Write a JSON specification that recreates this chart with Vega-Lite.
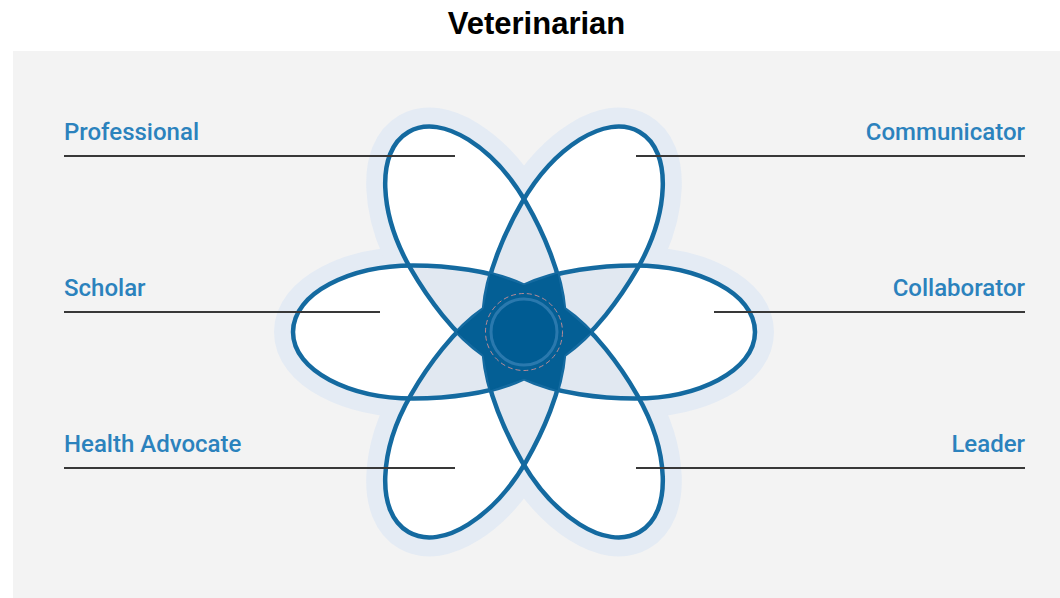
{
  "$schema": "https://vega.github.io/schema/vega-lite/v6.json",
  "width": 1047,
  "height": 547,
  "autosize": {"type": "none"},
  "padding": {"left": 13, "top": 51, "right": 0, "bottom": 0},
  "background": "#ffffff",
  "title": {"text": "Veterinarian", "fontSize": 31, "font": "Liberation Sans", "fontWeight": "bold", "color": "#000000", "anchor": "middle", "offset": 16, "baseline": "alphabetic", "dy": 30},
  "config": {"view": {"fill": "#f3f3f3", "stroke": null}},
  "datasets": {
    "petals": [
      {"axis": "Scholar – Collaborator", "x": 0, "y": 0, "angle": 0},
      {"axis": "Professional – Leader", "x": 0, "y": 0, "angle": 60},
      {"axis": "Communicator – Health Advocate", "x": 0, "y": 0, "angle": 120}
    ],
    "hub": [
      {"name": "Veterinarian", "x": 0, "y": 0}
    ],
    "roles": [
      {"role": "Professional", "side": "left", "x": -460, "x2": -69, "y": 176},
      {"role": "Scholar", "side": "left", "x": -460, "x2": -144, "y": 20},
      {"role": "Health Advocate", "side": "left", "x": -460, "x2": -69, "y": -136},
      {"role": "Communicator", "side": "right", "x": 501, "x2": 112, "y": 176},
      {"role": "Collaborator", "side": "right", "x": 501, "x2": 190, "y": 20},
      {"role": "Leader", "side": "right", "x": 501, "x2": 112, "y": -136}
    ]
  },
  "encoding": {
    "x": {"field": "x", "type": "quantitative", "scale": {"domain": [-511, 536], "nice": false, "zero": false}, "axis": null},
    "y": {"field": "y", "type": "quantitative", "scale": {"domain": [-266, 281], "nice": false, "zero": false}, "axis": null}
  },
  "layer": [
    {
      "data": {"name": "petals"},
      "mark": {"type": "point", "shape": "M 1 0 C 1 -0.17 0.75 -0.288 0.48 -0.288 C 0.34 -0.288 0.14 -0.268 0 -0.2 C -0.14 -0.268 -0.34 -0.288 -0.48 -0.288 C -0.75 -0.288 -1 -0.17 -1 0 C -1 0.17 -0.75 0.288 -0.48 0.288 C -0.34 0.288 -0.14 0.268 0 0.2 C 0.14 0.268 0.34 0.288 0.48 0.288 C 0.75 0.288 1 0.17 1 0 Z", "size": 213444, "filled": true, "fill": "#e4ebf4", "stroke": "#e4ebf4", "strokeWidth": 38, "strokeJoin": "round", "opacity": 1},
      "encoding": {"angle": {"field": "angle", "type": "quantitative", "scale": null}}
    },
    {
      "data": {"name": "petals"},
      "mark": {"type": "point", "shape": "M 1 0 C 1 -0.17 0.75 -0.288 0.48 -0.288 C 0.34 -0.288 0.14 -0.268 0 -0.2 C -0.14 -0.268 -0.34 -0.288 -0.48 -0.288 C -0.75 -0.288 -1 -0.17 -1 0 C -1 0.17 -0.75 0.288 -0.48 0.288 C -0.34 0.288 -0.14 0.268 0 0.2 C 0.14 0.268 0.34 0.288 0.48 0.288 C 0.75 0.288 1 0.17 1 0 Z", "size": 213444, "filled": true, "fill": "#ffffff", "strokeWidth": 0, "opacity": 1},
      "encoding": {"angle": {"field": "angle", "type": "quantitative", "scale": null}}
    },
    {
      "data": {"name": "hub"},
      "mark": {"type": "point", "shape": "M 0.289 0 L 0.4001 -0.1339 L 0.4988 -0.288 L 0.316 -0.2796 L 0.1445 -0.2503 L 0.0841 -0.4134 L 0 -0.576 L -0.0841 -0.4134 L -0.1445 -0.2503 L -0.316 -0.2796 L -0.4988 -0.288 L -0.4001 -0.1339 L -0.289 0 L -0.4001 0.1339 L -0.4988 0.288 L -0.316 0.2796 L -0.1445 0.2503 L -0.0841 0.4134 L 0 0.576 L 0.0841 0.4134 L 0.1445 0.2503 L 0.316 0.2796 L 0.4988 0.288 L 0.4001 0.1339 Z", "size": 213444, "filled": true, "fill": "#e1e8f1", "strokeWidth": 0, "opacity": 1}
    },
    {
      "data": {"name": "petals"},
      "mark": {"type": "point", "shape": "M 1 0 C 1 -0.17 0.75 -0.288 0.48 -0.288 C 0.34 -0.288 0.14 -0.268 0 -0.2 C -0.14 -0.268 -0.34 -0.288 -0.48 -0.288 C -0.75 -0.288 -1 -0.17 -1 0 C -1 0.17 -0.75 0.288 -0.48 0.288 C -0.34 0.288 -0.14 0.268 0 0.2 C 0.14 0.268 0.34 0.288 0.48 0.288 C 0.75 0.288 1 0.17 1 0 Z", "size": 213444, "filled": false, "stroke": "#146aa0", "strokeWidth": 4.5, "opacity": 1},
      "encoding": {"angle": {"field": "angle", "type": "quantitative", "scale": null}}
    },
    {
      "data": {"name": "hub"},
      "mark": {"type": "point", "shape": "M 0.289 0 L 0.1732 -0.1 L 0.1445 -0.2503 L 0 -0.2 L -0.1445 -0.2503 L -0.1732 -0.1 L -0.289 0 L -0.1732 0.1 L -0.1445 0.2503 L 0 0.2 L 0.1445 0.2503 L 0.1732 0.1 Z", "size": 213444, "filled": true, "fill": "#045f95", "stroke": "#045f95", "strokeWidth": 1, "opacity": 1}
    },
    {
      "data": {"name": "hub"},
      "mark": {"type": "point", "shape": "circle", "size": 4356, "filled": true, "fill": "#005c93", "stroke": "#2a79ae", "strokeWidth": 3, "opacity": 1}
    },
    {
      "data": {"name": "hub"},
      "mark": {"type": "point", "shape": "circle", "size": 5929, "filled": false, "stroke": "#b68a96", "strokeWidth": 1, "strokeDash": [5, 3], "opacity": 1}
    },
    {
      "data": {"name": "roles"},
      "mark": {"type": "rule", "color": "#383838", "strokeWidth": 2},
      "encoding": {"x2": {"field": "x2"}}
    },
    {
      "data": {"name": "roles"},
      "transform": [{"filter": "datum.side === 'left'"}],
      "mark": {"type": "text", "align": "left", "baseline": "alphabetic", "dy": -16, "font": "Roboto", "fontSize": 24, "fontWeight": 500, "color": "#2b82bd"},
      "encoding": {"text": {"field": "role"}}
    },
    {
      "data": {"name": "roles"},
      "transform": [{"filter": "datum.side === 'right'"}],
      "mark": {"type": "text", "align": "right", "baseline": "alphabetic", "dy": -16, "font": "Roboto", "fontSize": 24, "fontWeight": 500, "color": "#2b82bd"},
      "encoding": {"text": {"field": "role"}}
    }
  ]
}
